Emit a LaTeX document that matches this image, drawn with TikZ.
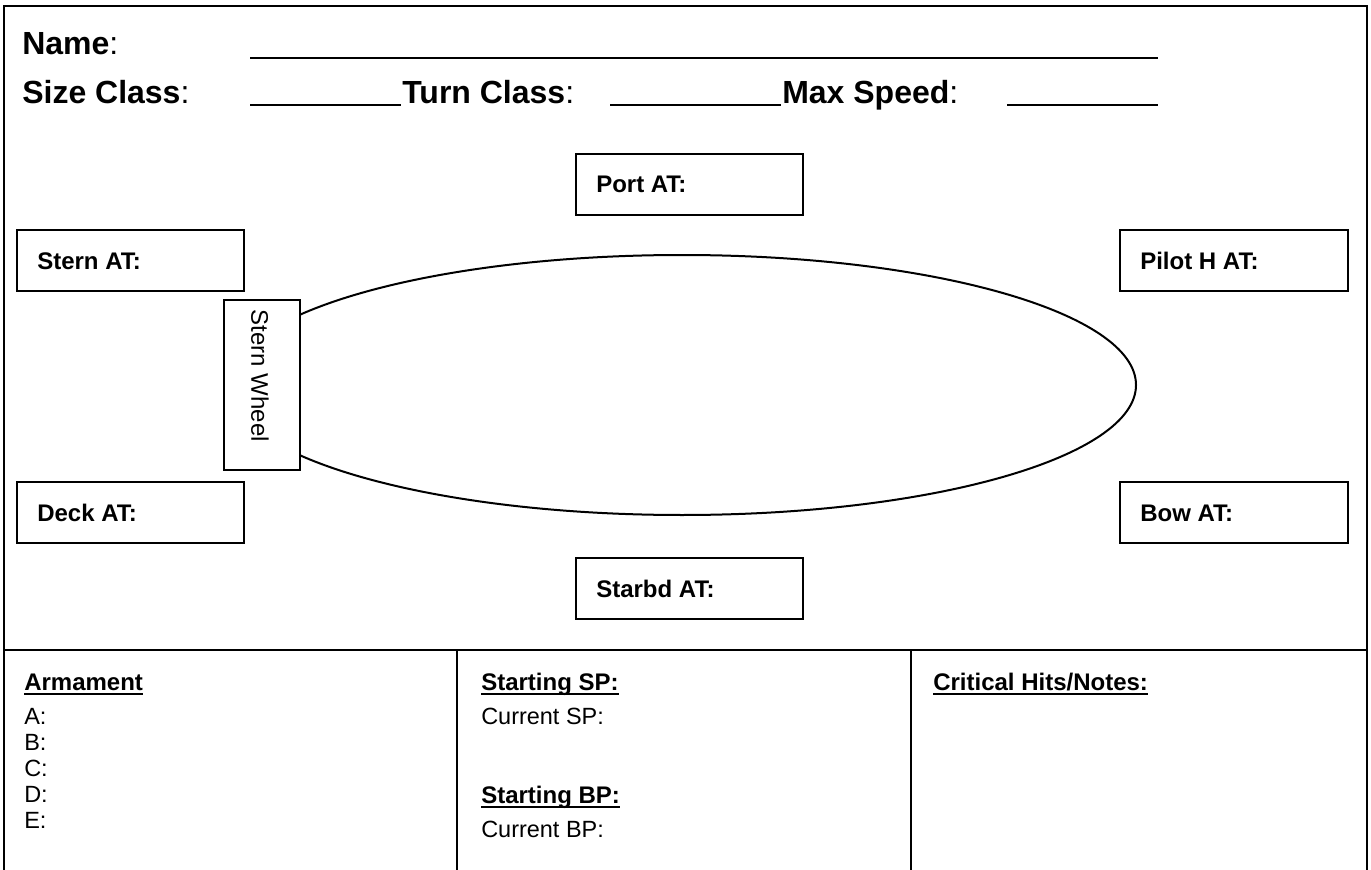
\documentclass[tikz,border=0pt]{standalone}
\usepackage{fontspec}
\setmainfont{Liberation Sans}
\usetikzlibrary{calc}
\tikzset{
  frame/.style={line width=1.5pt},
  field/.style={line width=2.2pt},
  atbox/.style={draw, line width=1.4pt, fill=white},
  title/.style={anchor=base west, inner sep=0pt, font=\fontsize{24}{28}\selectfont},
  lbl/.style={anchor=base west, inner sep=0pt, font=\fontsize{18}{20}\selectfont\bfseries},
  body/.style={anchor=base west, inner sep=0pt, font=\fontsize{17.6}{20}\selectfont},
  uline/.style={line width=2.1pt}
}
\begin{document}
\begin{tikzpicture}[x=0.75pt,y=-0.75pt]
\useasboundingbox (0,0) rectangle (1371,870);
% outer frame
\draw[frame] (4,880) -- (4,6) -- (1367,6) -- (1367,880);
\draw[frame] (4,650) -- (1367,650);
\draw[frame] (457,650) -- (457,880);
\draw[frame] (911,650) -- (911,880);
% header
\node[title] (name) at (22,55) {\textbf{Name}:};
\coordinate (nl1) at (250,58); \coordinate (nl2) at (1158,58);
\draw[field] (nl1) -- (nl2);
\node[title] (size) at (22,104) {\textbf{Size Class}:};
\coordinate (sl1) at (250,105); \coordinate (sl2) at (401,105);
\draw[field] (sl1) -- (sl2);
\node[title] (turn) at (402,104) {\textbf{Turn Class}:};
\coordinate (tl1) at (610,105); \coordinate (tl2) at (781,105);
\draw[field] (tl1) -- (tl2);
\node[title] (maxs) at (782,104) {\textbf{Max Speed}:};
\coordinate (ml1) at (1007,105); \coordinate (ml2) at (1158,105);
\draw[field] (ml1) -- (ml2);
% ship
\draw[line width=1.5pt] (682,385) ellipse [x radius=454, y radius=130];
\node[atbox, minimum width=76*0.75pt, minimum height=170*0.75pt, anchor=north west, inner sep=0pt] (wheel) at (223,299) {};
\node[rotate=-90, font=\fontsize{18}{20}\selectfont, inner sep=0pt] (wheeltxt) at (260,376) {Stern Wheel};
% AT boxes
\foreach \nm/\x/\y/\w/\t in {port/575/153/227/Port AT:, stern/16/229/227/Stern AT:, pilot/1119/229/228/Pilot H AT:, deck/16/481/227/Deck AT:, bow/1119/481/228/Bow AT:, starbd/575/557/227/Starbd AT:}{
  \node[atbox, anchor=north west, inner sep=0pt, minimum width=\w*0.75pt, minimum height=61*0.75pt] (\nm) at (\x,\y) {};
  \node[lbl] (\nm txt) at ($(\nm.north west)+(21,40)$) {\t};
}
% bottom section
\node[lbl] (arm) at (24,690) {Armament};
\draw[uline] ($(arm.base west)+(0,4)$) -- ($(arm.base east)+(0,4)$);
\node[body] (a) at (24,724) {A:};
\node[body] (b) at (24,750) {B:};
\node[body] (c) at (24,776) {C:};
\node[body] (d) at (24,802) {D:};
\node[body] (e) at (24,828) {E:};
\node[lbl] (ssp) at (481,690) {Starting SP:\hspace{9pt}};
\draw[uline] ($(ssp.base west)+(0,4)$) -- ($(ssp.base east)+(0,4)$);
\node[body] (csp) at (481,724) {Current SP:};
\node[lbl] (sbp) at (481,803) {Starting BP:\hspace{9pt}};
\draw[uline] ($(sbp.base west)+(0,4)$) -- ($(sbp.base east)+(0,4)$);
\node[body] (cbp) at (481,837) {Current BP:};
\node[lbl] (crit) at (933,690) {Critical Hits/Notes:};
\draw[uline] ($(crit.base west)+(0,4)$) -- ($(crit.base east)+(0,4)$);
\end{tikzpicture}
\end{document}
